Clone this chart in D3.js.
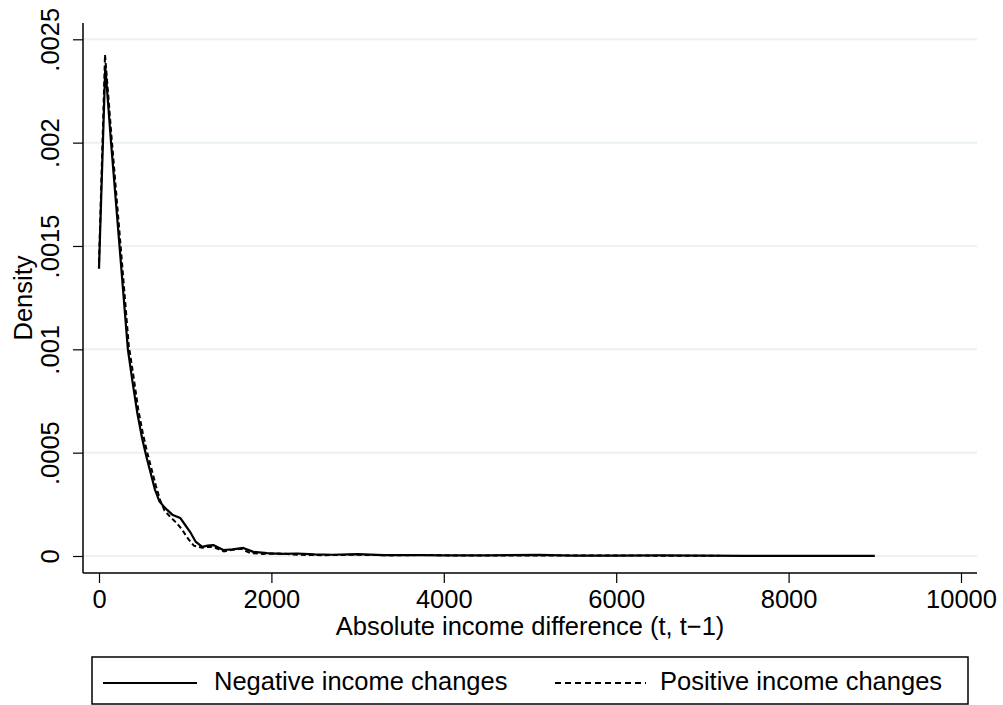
<!DOCTYPE html>
<html>
<head>
<meta charset="utf-8">
<script src="https://cdn.jsdelivr.net/npm/d3@7"></script>
<style>
  body { margin: 0; background: #fff; }
  svg text { font-family: "Liberation Sans", Arial, Helvetica, sans-serif; fill: #000; }
</style>
</head>
<body>
<div class="chart"></div>
<script>
var totalWidth = 1003;
var totalHeight = 705;

// DATA
var xTicks = [0, 2000, 4000, 6000, 8000, 10000];
var yTicks = [0, 0.0005, 0.001, 0.0015, 0.002, 0.0025];
var yTickLabels = ["0", ".0005", ".001", ".0015", ".002", ".0025"];

var negX = [0, 73, 140, 238, 335, 390, 445, 500, 550, 600, 650, 700, 750, 791, 850, 942, 1000, 1058, 1120, 1198, 1260, 1326, 1390, 1442, 1550, 1674, 1791, 1950, 2105, 2300, 2500, 2700, 3000, 3300, 3700, 4000, 4500, 5100, 5500, 6000, 6500, 7000, 7500, 8000, 9000];
var negY = [0.00139, 0.002368, 0.0020, 0.0015, 0.0010, 0.00084, 0.00069, 0.00057, 0.00048, 0.0004, 0.00032, 0.000265, 0.00024, 0.000223, 0.0002, 0.000184, 0.00015, 0.000116, 0.00007, 0.000044, 0.00005, 0.000053, 0.00004, 0.000029, 0.000032, 0.000039, 0.00002, 0.000014, 0.00001, 0.000012, 0.000008, 0.000006, 0.000009, 0.000004, 0.000004, 0.000003, 0.000003, 0.000005, 0.000002, 0.000002, 0.000003, 0.000002, 0.000001, 0.000001, 0.000001];

var posX = [0, 70, 145, 245, 345, 400, 455, 510, 560, 610, 660, 709, 760, 826, 900, 960, 1040, 1100, 1198, 1280, 1350, 1450, 1550, 1650, 1750, 1900, 2100, 2300, 2600, 3000, 3400, 3800, 4200, 4800, 5500, 6200, 7200];
var posY = [0.00142, 0.002425, 0.00203, 0.00153, 0.00102, 0.00087, 0.00071, 0.00059, 0.0005, 0.00042, 0.00034, 0.00027, 0.00022, 0.000189, 0.00016, 0.00013, 0.00008, 0.00005, 0.00004, 0.000045, 0.00004, 0.000022, 0.00003, 0.000035, 0.000015, 0.00001, 0.000012, 0.000006, 0.000004, 0.000006, 0.000003, 0.000005, 0.000002, 0.000003, 0.000002, 0.000002, 0.000001];

var seriesNames = ["Negative income changes", "Positive income changes"];

var negData = negX.map(function(x, i) { return { x: x, y: negY[i] }; });
var posData = posX.map(function(x, i) { return { x: x, y: posY[i] }; });

// plot region
var plot = { left: 83, right: 977, top: 23, bottom: 573 };

var xScale = d3.scaleLinear().domain([0, 10000]).range([99, 961]);
var yScale = d3.scaleLinear().domain([0, 0.0025]).range([556, 39.3]);

var fontSize = 25.5;
var gridColor = "rgb(234,242,243)";

var svg = d3.select(".chart")
  .append("svg")
  .attr("width", totalWidth)
  .attr("height", totalHeight);

svg.append("rect")
  .attr("width", totalWidth)
  .attr("height", totalHeight)
  .attr("fill", "#fff");

// GRIDLINES
svg.append("g")
  .attr("id", "grid")
  .selectAll("line")
  .data(yTicks)
  .enter()
  .append("line")
  .attr("x1", plot.left)
  .attr("x2", plot.right)
  .attr("y1", function(d) { return yScale(d); })
  .attr("y2", function(d) { return yScale(d); })
  .attr("stroke", gridColor)
  .attr("stroke-width", 2);

// Y AXIS
var yAxis = d3.axisLeft(yScale)
  .tickValues(yTicks)
  .tickSize(10)
  .tickFormat(function(d, i) { return yTickLabels[i]; });

svg.append("g")
  .attr("id", "yaxis")
  .attr("transform", "translate(" + plot.left + ",0)")
  .call(yAxis)
  .call(function(g) {
    g.select(".domain").remove();
    g.selectAll(".tick line").attr("stroke", "#000").attr("stroke-width", 1.2);
    g.selectAll(".tick text")
      .attr("font-size", fontSize)
      .attr("font-family", null)
      .attr("x", null)
      .attr("dy", null)
      .attr("text-anchor", "middle")
      .attr("transform", "translate(-24,0) rotate(-90)");
  });

svg.append("line")
  .attr("x1", plot.left).attr("x2", plot.left)
  .attr("y1", plot.top).attr("y2", plot.bottom)
  .attr("stroke", "#000").attr("stroke-width", 1.5);

// X AXIS
var xAxis = d3.axisBottom(xScale)
  .tickValues(xTicks)
  .tickSize(10)
  .tickFormat(d3.format("d"));

svg.append("g")
  .attr("id", "xaxis")
  .attr("transform", "translate(0," + plot.bottom + ")")
  .call(xAxis)
  .call(function(g) {
    g.select(".domain").remove();
    g.selectAll(".tick line").attr("stroke", "#000").attr("stroke-width", 1.2);
    g.selectAll(".tick text")
      .attr("font-size", fontSize)
      .attr("font-family", null)
      .attr("dy", null)
      .attr("y", 35);
  });

svg.append("line")
  .attr("x1", plot.left).attr("x2", plot.right)
  .attr("y1", plot.bottom).attr("y2", plot.bottom)
  .attr("stroke", "#000").attr("stroke-width", 1.5);

// AXIS TITLES
svg.append("text")
  .attr("transform", "translate(32," + ((plot.top + plot.bottom) / 2) + ") rotate(-90)")
  .attr("text-anchor", "middle")
  .attr("font-size", fontSize)
  .text("Density");

svg.append("text")
  .attr("x", (plot.left + plot.right) / 2)
  .attr("y", 635)
  .attr("text-anchor", "middle")
  .attr("font-size", fontSize)
  .text("Absolute income difference (t, t\u22121)");

// LINES
var line = d3.line()
  .x(function(d) { return xScale(d.x); })
  .y(function(d) { return yScale(d.y); })
  .curve(d3.curveLinear);

svg.append("path")
  .datum(posData)
  .attr("d", line)
  .attr("fill", "none")
  .attr("stroke", "#000")
  .attr("stroke-width", 2)
  .attr("stroke-dasharray", "5,3");

svg.append("path")
  .datum(negData)
  .attr("d", line)
  .attr("fill", "none")
  .attr("stroke", "#000")
  .attr("stroke-width", 2.2)
  .attr("stroke-linejoin", "round");

// LEGEND
var legend = svg.append("g").attr("id", "legend");

legend.append("rect")
  .attr("x", 92)
  .attr("y", 657)
  .attr("width", 876)
  .attr("height", 47)
  .attr("fill", "#fff")
  .attr("stroke", "#000")
  .attr("stroke-width", 1.5);

var legendItems = [
  { name: seriesNames[0], x1: 103, x2: 197, tx: 214, dash: null },
  { name: seriesNames[1], x1: 555, x2: 646, tx: 660, dash: "6,4" }
];

legendItems.forEach(function(d) {
  legend.append("line")
    .attr("x1", d.x1).attr("x2", d.x2)
    .attr("y1", 683).attr("y2", 683)
    .attr("stroke", "#000")
    .attr("stroke-width", 2)
    .attr("stroke-dasharray", d.dash);
  legend.append("text")
    .attr("x", d.tx)
    .attr("y", 690)
    .attr("font-size", fontSize)
    .text(d.name);
});
</script>
</body>
</html>
